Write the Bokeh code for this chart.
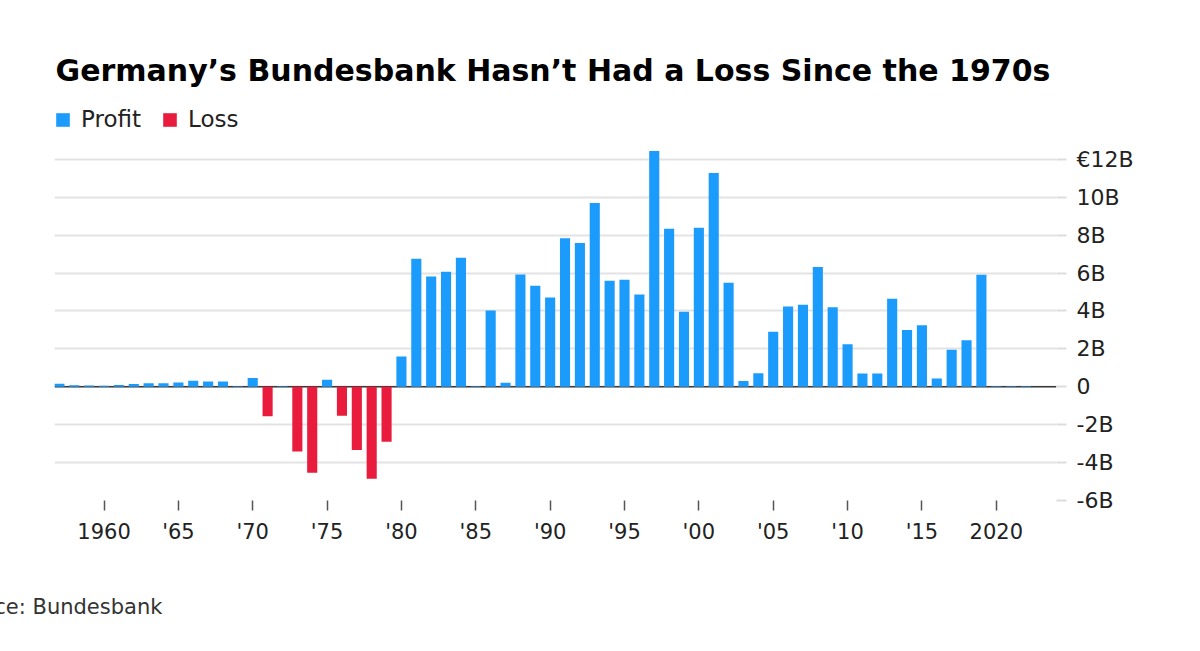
from bokeh.plotting import figure
from bokeh.models import (Range1d, FixedTicker, Span, Label, Legend, LegendItem,
                          ColumnDataSource)
from bokeh.embed import file_html
from bokeh.resources import INLINE

# ---- data (EUR billions) ----
years = list(range(1957, 2023))
values = [0.16, 0.08, 0.07, 0.06, 0.10, 0.15, 0.18, 0.18, 0.23, 0.32, 0.28, 0.28,
          0.03, 0.46, -1.56, 0.03, -3.41, -4.54, 0.37, -1.53, -3.34, -4.85, -2.90,
          1.60, 6.75, 5.82, 6.07, 6.81, 0.03, 4.03, 0.21, 5.93, 5.33, 4.71, 7.83,
          7.58, 9.69, 5.59, 5.65, 4.87, 12.44, 8.34, 3.96, 8.39, 11.28, 5.49, 0.30,
          0.72, 2.90, 4.24, 4.33, 6.32, 4.19, 2.25, 0.70, 0.70, 4.64, 2.99, 3.24,
          0.44, 1.95, 2.46, 5.91, 0.03, 0.03, 0.03]
x_ticks = [1960, 1965, 1970, 1975, 1980, 1985, 1990, 1995, 2000, 2005, 2010, 2015, 2020]
x_tick_labels = ["1960", "'65", "'70", "'75", "'80", "'85", "'90", "'95", "'00", "'05",
                 "'10", "'15", "2020"]
y_ticks = [-6, -4, -2, 0, 2, 4, 6, 8, 10, 12]
y_tick_labels = ["-6B", "-4B", "-2B", "0", "2B", "4B", "6B", "8B", "10B", "\u20ac12B"]

title_text = "Germany\u2019s Bundesbank Hasn\u2019t Had a Loss Since the 1970s"
source_text = "Source: Bundesbank"

BLUE = "#1b9bfb"
RED = "#e91c3d"
FONT = "DejaVu Sans"

profit = ColumnDataSource(dict(x=[y for y, v in zip(years, values) if v >= 0],
                               top=[v for v in values if v >= 0]))
loss = ColumnDataSource(dict(x=[y for y, v in zip(years, values) if v < 0],
                             top=[v for v in values if v < 0]))

X0, X1 = 1956.67, 2024.05
Y0, Y1 = -6, 20.38   # upper part of the frame holds title and legend

p = figure(width=1188, height=640, output_backend="svg", toolbar_location=None,
           title=None, x_range=Range1d(X0, X1), y_range=Range1d(Y0, Y1),
           min_border_left=54, min_border_right=132, min_border_top=0,
           min_border_bottom=140, y_axis_location="right")
p.outline_line_color = None
p.background_fill_color = "white"
p.border_fill_color = "white"

# grid
p.xgrid.grid_line_color = None
p.ygrid.ticker = FixedTicker(ticks=[t for t in y_ticks if t > -6])
p.ygrid.grid_line_color = "#e3e3e3"
p.ygrid.grid_line_width = 2

zero = Span(location=0, dimension="width", line_color="#3a3a3a", line_width=1.6,
            level="underlay")
p.add_layout(zero)

r1 = p.vbar(x="x", top="top", bottom=0, width=0.68, source=profit,
            fill_color=BLUE, line_color=None)
r2 = p.vbar(x="x", top="top", bottom=0, width=0.68, source=loss,
            fill_color=RED, line_color=None)

# y axis (right)
ya = p.yaxis[0]
ya.ticker = FixedTicker(ticks=y_ticks)
ya.major_label_overrides = {t: l for t, l in zip(y_ticks, y_tick_labels)}
ya.axis_line_color = None
ya.major_tick_in = 0
ya.major_tick_out = 10
ya.major_tick_line_color = "#dddddd"
ya.major_tick_line_width = 2
ya.minor_tick_line_color = None
ya.major_label_standoff = 10
ya.major_label_text_font = FONT
ya.major_label_text_font_size = "22px"
ya.major_label_text_color = "#222222"

# x axis (its label carries the source line)
xa = p.xaxis[0]
xa.ticker = FixedTicker(ticks=x_ticks)
xa.major_label_overrides = {t: l for t, l in zip(x_ticks, x_tick_labels)}
xa.axis_line_color = None
xa.major_tick_in = 0
xa.major_tick_out = 10
xa.major_tick_line_color = "#555555"
xa.major_tick_line_width = 1.5
xa.minor_tick_line_color = None
xa.major_label_standoff = 9
xa.major_label_text_font = FONT
xa.major_label_text_font_size = "21px"
xa.major_label_text_color = "#222222"
xa.axis_label = source_text
xa.axis_label_align = "start"
xa.axis_label_text_align = "left"
xa.axis_label_standoff = 48
xa.axis_label_text_font = FONT
xa.axis_label_text_font_size = "21px"
xa.axis_label_text_font_style = "normal"
xa.axis_label_text_color = "#333333"

# title (inside the top of the frame)
p.add_layout(Label(x=X0 + 0.07, y=16.71, text=title_text, text_font=FONT,
                   text_font_size="30px", text_font_style="bold",
                   text_color="#000000", text_baseline="alphabetic"))

# legend
legend = Legend(items=[LegendItem(label="Profit", renderers=[r1]),
                       LegendItem(label="Loss", renderers=[r2])],
                orientation="horizontal", location=(0, 368),
                glyph_width=17, glyph_height=17, label_height=17,
                label_standoff=10, spacing=20, padding=0, margin=0,
                border_line_color=None, background_fill_alpha=0,
                label_text_font=FONT, label_text_font_size="23px",
                label_text_color="#222222")
p.add_layout(legend)

open("out.html", "w").write(file_html(p, INLINE))
